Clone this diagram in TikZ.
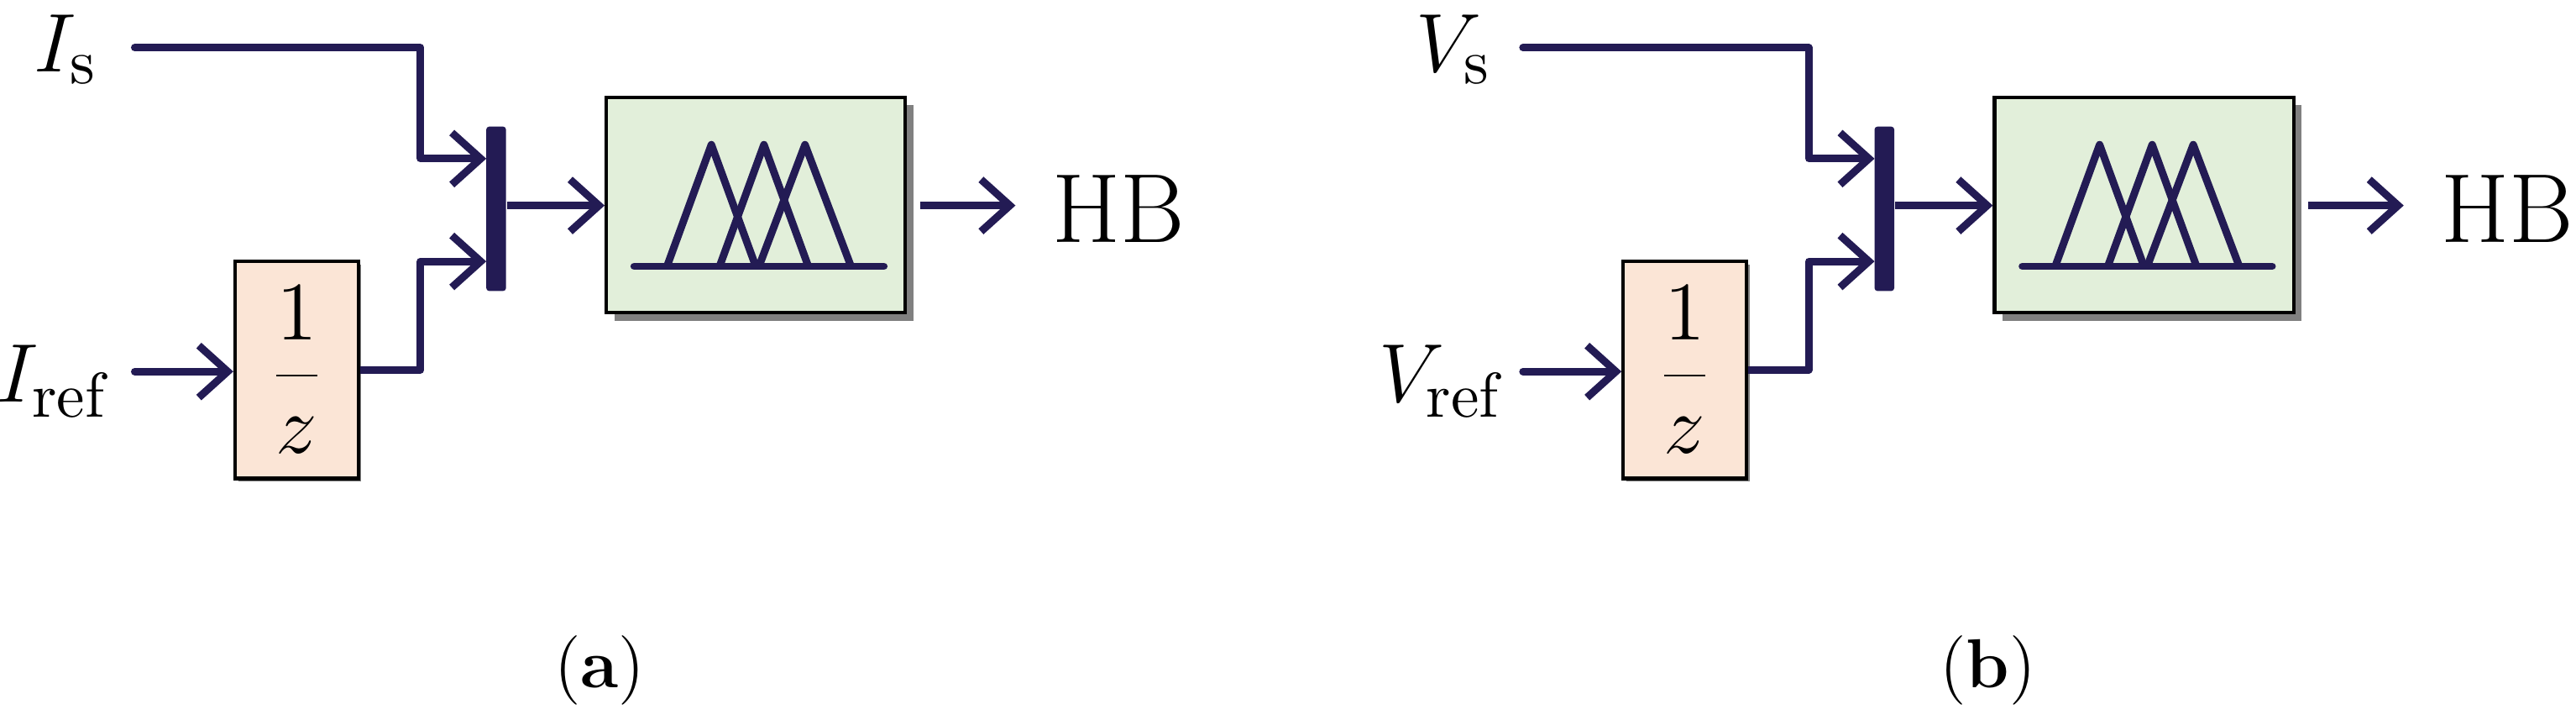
\documentclass[tikz,border=0pt]{standalone}
\usetikzlibrary{arrows.meta}
\definecolor{ln}{HTML}{231B54}
\definecolor{gfill}{HTML}{E2EFDA}
\definecolor{pfill}{HTML}{FBE5D6}
\definecolor{shd}{HTML}{808080}
\tikzset{
 wire/.style={draw=ln,line width=1.3pt,line join=round},
 arr/.style={wire,-{Straight Barb[length=5pt,width=9pt,line width=1.3pt]}},
 blk/.style={draw=black,line width=0.6pt,inner sep=0pt},
 lbl/.style={font=\fontsize{15}{17}\selectfont,inner sep=0pt},
}
\newcommand\mypanel[4]{%
\begin{scope}[xshift=#2]
 \fill[shd] (1.45,-2.93) rectangle (2.20,-1.61);
 \node[blk,fill=pfill,minimum width=0.75cm,minimum height=1.32cm,anchor=north west] (#1d) at (1.42,-1.58) {};
 \node[lbl] (#1dz) at (#1d.center) {$\displaystyle\frac{1}{z}$};
 \fill[shd] (3.74,-1.95) rectangle (5.56,-0.64);
 \node[blk,fill=gfill,minimum width=1.82cm,minimum height=1.31cm,anchor=north west] (#1f) at (3.68,-0.58) {};
 \draw[wire,line cap=round] (3.86,-1.62) -- (5.38,-1.62);
 \draw[wire] (4.06,-1.62) -- (4.33,-0.88) -- (4.60,-1.62);
 \draw[wire] (4.38,-1.62) -- (4.65,-0.88) -- (4.92,-1.62);
 \draw[wire] (4.62,-1.62) -- (4.90,-0.88) -- (5.18,-1.62);
 \node[fill=ln,minimum width=0.12cm,minimum height=1.0cm,inner sep=0pt,rounded corners=0.5pt] (#1m) at (3.02,-1.27) {};
 \coordinate (#1m1) at (2.96,-0.965);
 \coordinate (#1m2) at (2.96,-1.59);
 \node[lbl] (#1s) at (0.40,-0.30) {$#3_{\mathrm{s}}$};
 \node[lbl] (#1r) at (0.33,-2.32) {$#3_{\mathrm{ref}}$};
 \node[lbl,font=\fontsize{17}{19}\selectfont,anchor=west] (#1hb) at (6.40,-1.27) {HB};
 \coordinate (#1s0) at (0.82,-0.29);
 \coordinate (#1r0) at (0.82,-2.26);
 \draw[arr,line cap=round] (#1s0) -- (2.56,-0.29) |- (#1m1);
 \draw[arr,line cap=round] (#1r0) -- (#1d.west |- #1r0);
 \draw[arr] (#1d.east |- 0,-2.25) -| (2.56,-1.59) -- (#1m2);
 \draw[arr] (#1m.east |- 0,-1.25) -- (#1f.west |- 0,-1.25);
 \draw[arr] ([xshift=0.08cm]#1f.east |- 0,-1.25) -- ++(0.58,0);
 \node[font=\fontsize{12}{14}\selectfont] (#1cap) at (3.65,-4.08) {(\textbf{#4})};
\end{scope}}
\begin{document}
\begin{tikzpicture}
\useasboundingbox (0,0) rectangle (15.68,-4.375);
\mypanel{a}{0cm}{I}{a}
\mypanel{b}{8.45cm}{V}{b}
\end{tikzpicture}
\end{document}
